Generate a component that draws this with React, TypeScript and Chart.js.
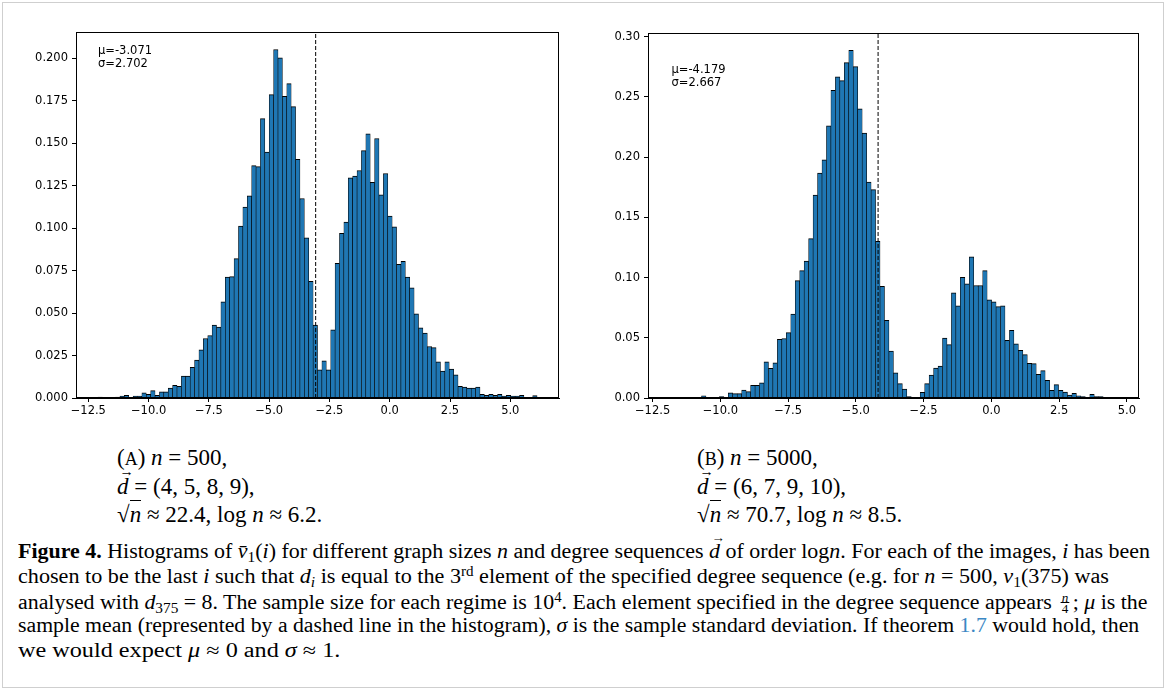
import React, { useEffect, useLayoutEffect, useRef } from "react";
import { Chart, registerables } from "chart.js";

Chart.register(...registerables);

// ---------- data: panel A (n = 500) ----------
const binStartA = -12.099;
const binWidthA = 0.1821;
const densityA = [
  0.0006, 0, 0, 0, 0.0006, 0.0011, 0.0016, 0, 0.0011, 0.0011,
  0.003, 0.0022, 0.0043, 0.0016, 0.0037, 0.0037, 0.0059, 0.0074, 0.0069, 0.0129,
  0.0129, 0.018, 0.0223, 0.0284, 0.035, 0.0368, 0.0429, 0.0417, 0.0566, 0.0711,
  0.0714, 0.082, 0.1012, 0.1124, 0.119, 0.1368, 0.1362, 0.1644, 0.1448, 0.1785,
  0.2051, 0.2002, 0.1775, 0.185, 0.1715, 0.1405, 0.1174, 0.0943, 0.0687, 0.0429,
  0.0166, 0.0219, 0.0166, 0.0401, 0.0793, 0.0969, 0.1035, 0.1296, 0.1306, 0.1339,
  0.1456, 0.1554, 0.127, 0.1527, 0.1196, 0.1321, 0.1071, 0.1008, 0.0787, 0.0804,
  0.0711, 0.0648, 0.0495, 0.0413, 0.0382, 0.0303, 0.0296, 0.0213, 0.0159, 0.0213,
  0.017, 0.0137, 0.0068, 0.0065, 0.0059, 0.0059, 0.0065, 0.0022, 0.0016, 0.0022,
  0.0016, 0.0022, 0.0011, 0.0016, 0.0011, 0.0011, 0.0016, 0, 0, 0.0014,
];
const meanA = -3.071;
const sdA = 2.702;
const xLimA = [-13.01, 7.02];
const yLimA = [0, 0.2154];
const xTicksA = [-12.5, -10, -7.5, -5, -2.5, 0, 2.5, 5];
const yTicksA = [0, 0.025, 0.05, 0.075, 0.1, 0.125, 0.15, 0.175, 0.2];

// ---------- data: panel B (n = 5000) ----------
const binStartB = -11.848;
const binWidthB = 0.1647;
const densityB = [
  0.0006, 0, 0, 0.0006, 0, 0, 0.0006, 0.0018, 0.0006, 0.0006,
  0.0006, 0.0012, 0, 0.0042, 0.0036, 0.0036, 0.0066, 0.0053, 0.0105, 0.0105,
  0.0125, 0.03, 0.0247, 0.0292, 0.0487, 0.0494, 0.0543, 0.0696, 0.0975, 0.1058,
  0.1138, 0.1324, 0.1685, 0.1868, 0.1978, 0.2261, 0.2555, 0.2667, 0.2636, 0.2785,
  0.2887, 0.2752, 0.2402, 0.22, 0.1793, 0.173, 0.13, 0.0928, 0.0646, 0.039,
  0.0208, 0.0119, 0.0075, 0.0012, 0.0006, 0.0006, 0.0047, 0.0119, 0.0191, 0.0249,
  0.0266, 0.0498, 0.0443, 0.0873, 0.0765, 0.1003, 0.0948, 0.1172, 0.0934, 0.0934,
  0.1058, 0.0815, 0.0798, 0.0759, 0.0765, 0.0479, 0.0562, 0.0449, 0.0396, 0.036,
  0.0288, 0.0285, 0.0197, 0.0227, 0.0147, 0.0064, 0.0111, 0.0064, 0.005, 0.0025,
  0.0039, 0.0019, 0.0012, 0, 0.003, 0.0012, 0.0012, 0, 0.0006, 0.0006,
];
const meanB = -4.179;
const sdB = 2.667;
const xLimB = [-12.67, 5.45];
const yLimB = [0, 0.3031];
const xTicksB = [-12.5, -10, -7.5, -5, -2.5, 0, 2.5, 5];
const yTicksB = [0, 0.05, 0.1, 0.15, 0.2, 0.25, 0.3];

const TICK_FONT = { family: '"DejaVu Sans", sans-serif', size: 11.5 };
const BAR_BLUE = "#1f77b4";

const fmt = (v: number, d: number) => (v < 0 ? "\u2212" : "") + Math.abs(v).toFixed(d);

const framePlugin = {
  id: "frame",
  afterDraw(chart: any) {
    const { ctx, chartArea } = chart;
    const l = Math.round(chartArea.left) + 0.5;
    const t = Math.round(chartArea.top) + 0.5;
    const r = Math.round(chartArea.right) - 0.5;
    const b = Math.round(chartArea.bottom) - 0.5;
    ctx.save();
    ctx.strokeStyle = "#000";
    ctx.lineWidth = 1;
    ctx.strokeRect(l, t, r - l, b - t);
    ctx.restore();
  },
};

const statsPlugin = {
  id: "stats",
  afterDraw(chart: any, _args: any, opts: any) {
    const { ctx, chartArea } = chart;
    ctx.save();
    ctx.font = `${opts.size}px "DejaVu Sans", sans-serif`;
    ctx.fillStyle = "#000";
    ctx.textAlign = "left";
    ctx.textBaseline = "alphabetic";
    (opts.lines as string[]).forEach((t, i) => {
      ctx.fillText(t, chartArea.left + opts.dx, chartArea.top + opts.dy + i * opts.lh);
    });
    ctx.restore();
  },
};

type Panel = {
  binStart: number;
  binWidth: number;
  density: number[];
  mean: number;
  sd: number;
  xLim: number[];
  yLim: number[];
  xTicks: number[];
  yTicks: number[];
  yDec: number;
  pad: { left: number; top: number; right: number; bottom: number };
  yAxisW: number;
  xAxisH: number;
  textDx: number;
  textDy: number;
};

function buildChart(canvas: HTMLCanvasElement, p: Panel) {
  const bars = p.density.map((h, i) => ({ x: p.binStart + (i + 0.5) * p.binWidth, y: h }));
  return new Chart(canvas, {
    type: "bar",
    data: {
      datasets: [
        {
          type: "bar",
          data: bars as any,
          backgroundColor: BAR_BLUE,
          borderColor: "#000",
          borderWidth: { top: 1, left: 0.6, right: 0.6, bottom: 0 } as any,
          borderSkipped: false,
          barPercentage: 1,
          categoryPercentage: 1,
          order: 2,
        },
        {
          type: "line",
          data: [
            { x: p.mean, y: p.yLim[0] },
            { x: p.mean, y: p.yLim[1] },
          ] as any,
          borderColor: "#000",
          borderWidth: 1,
          borderDash: [4, 2],
          pointRadius: 0,
          fill: false,
          order: 1,
        } as any,
      ],
    },
    options: {
      animation: false,
      responsive: false,
      maintainAspectRatio: false,
      devicePixelRatio: 1,
      events: [],
      layout: { padding: p.pad },
      plugins: {
        legend: { display: false },
        tooltip: { enabled: false },
        stats: {
          lines: [`μ=${p.mean.toFixed(3)}`, `σ=${p.sd.toFixed(3)}`],
          dx: p.textDx,
          dy: p.textDy,
          lh: 13.3,
          size: 11.5,
        },
      } as any,
      scales: {
        x: {
          type: "linear",
          min: p.xLim[0],
          max: p.xLim[1],
          offset: false,
          afterBuildTicks: (s: any) => {
            s.ticks = p.xTicks.map((v) => ({ value: v }));
          },
          afterFit: (s: any) => {
            s.height = p.xAxisH;
          },
          grid: {
            display: true,
            offset: false,
            drawOnChartArea: false,
            drawTicks: true,
            tickLength: 4,
            tickColor: "#000",
            color: "#000",
          },
          border: { display: true, color: "#000", width: 1 },
          ticks: {
            color: "#000",
            font: TICK_FONT,
            padding: 2,
            maxRotation: 0,
            autoSkip: false,
            callback: (v: any) => fmt(Number(v), 1),
          },
        },
        y: {
          type: "linear",
          min: p.yLim[0],
          max: p.yLim[1],
          afterBuildTicks: (s: any) => {
            s.ticks = p.yTicks.map((v) => ({ value: v }));
          },
          afterFit: (s: any) => {
            s.width = p.yAxisW;
          },
          grid: {
            display: true,
            drawOnChartArea: false,
            drawTicks: true,
            tickLength: 4,
            tickColor: "#000",
            color: "#000",
          },
          border: { display: true, color: "#000", width: 1 },
          ticks: {
            color: "#000",
            font: TICK_FONT,
            padding: 4,
            autoSkip: false,
            callback: (v: any) => fmt(Number(v), p.yDec),
          },
        },
      },
    } as any,
    plugins: [framePlugin, statsPlugin] as any,
  });
}

const panelA: Panel = {
  binStart: binStartA,
  binWidth: binWidthA,
  density: densityA,
  mean: meanA,
  sd: sdA,
  xLim: xLimA,
  yLim: yLimA,
  xTicks: xTicksA,
  yTicks: yTicksA,
  yDec: 3,
  pad: { left: 0, top: 32, right: 21, bottom: 0 },
  yAxisW: 76,
  xAxisH: 27,
  textDx: 22,
  textDy: 21.5,
};

const panelB: Panel = {
  binStart: binStartB,
  binWidth: binWidthB,
  density: densityB,
  mean: meanB,
  sd: sdB,
  xLim: xLimB,
  yLim: yLimB,
  xTicks: xTicksB,
  yTicks: yTicksB,
  yDec: 2,
  pad: { left: 0, top: 33, right: 28, bottom: 0 },
  yAxisW: 68,
  xAxisH: 27,
  textDx: 23.5,
  textDy: 39.5,
};

const SERIF = '"Liberation Serif", "Times New Roman", serif';
const LINK = "#3b87c4";

const Sub = ({ children }: { children: any }) => (
  <span style={{ fontSize: "0.7em", verticalAlign: "-0.28em", lineHeight: 0 }}>{children}</span>
);
const Sup = ({ children }: { children: any }) => (
  <span style={{ fontSize: "0.68em", verticalAlign: "0.5em", lineHeight: 0 }}>{children}</span>
);
const Vec = ({ c }: { c: string }) => (
  <span style={{ position: "relative", display: "inline-block" }}>
    <i>{c}</i>
    <span
      style={{
        position: "absolute",
        left: "0.18em",
        top: "-0.62em",
        fontSize: "0.62em",
        fontStyle: "normal",
        lineHeight: 1,
      }}
    >
      →
    </span>
  </span>
);
// small stacked fraction n/4, positioned in px for a 20px caption font
const Frac = () => (
  <span
    style={{
      position: "relative",
      display: "inline-block",
      width: 10,
      height: 20,
      margin: "0 2px",
      verticalAlign: "baseline",
    }}
  >
    <span
      style={{
        position: "absolute",
        left: 0,
        right: 0,
        top: 3,
        textAlign: "center",
        fontSize: 12,
        lineHeight: "12px",
        fontStyle: "italic",
      }}
    >
      n
    </span>
    <span style={{ position: "absolute", left: 1, right: 1, top: 13, borderTop: "1px solid #000" }} />
    <span
      style={{
        position: "absolute",
        left: 0,
        right: 0,
        top: 14,
        textAlign: "center",
        fontSize: 12,
        lineHeight: "12px",
      }}
    >
      4
    </span>
  </span>
);
const Sqrt = () => (
  <span>
    √<span style={{ borderTop: "1px solid #000", paddingTop: 1 }}>
      <i>n</i>
    </span>
  </span>
);

const capTargets = [1132, 1091, 1129, 1121, 322];
const capBaselines = [558, 583, 608, 632, 657];

export default function App() {
  const refA = useRef<HTMLCanvasElement | null>(null);
  const refB = useRef<HTMLCanvasElement | null>(null);
  const lineRefs = useRef<(HTMLSpanElement | null)[]>([]);

  useEffect(() => {
    const a = buildChart(refA.current!, panelA);
    const b = buildChart(refB.current!, panelB);
    return () => {
      a.destroy();
      b.destroy();
    };
  }, []);

  useLayoutEffect(() => {
    lineRefs.current.forEach((el, i) => {
      if (!el) return;
      const w = el.offsetWidth;
      if (w > 0) el.style.transform = `scaleX(${capTargets[i] / w})`;
    });
  }, []);

  const capSize = 20;
  const capLH = 24;
  const capTopOff = (capLH - 1.107 * capSize) / 2 + 0.891 * capSize;

  const subSize = 23;
  const subLH = 27;
  const subTopOff = (subLH - 1.107 * subSize) / 2 + 0.891 * subSize;
  const subBaselines = [465, 494, 522];

  const subLine = (left: number, i: number, content: any) => (
    <div
      key={`${left}-${i}`}
      style={{
        position: "absolute",
        left,
        top: subBaselines[i] - subTopOff,
        fontFamily: SERIF,
        fontSize: subSize,
        lineHeight: `${subLH}px`,
        whiteSpace: "nowrap",
        color: "#000",
      }}
    >
      {content}
    </div>
  );

  const capLines = [
    <>
      <b>Figure 4.</b> Histograms of <i>v̄</i>
      <Sub>1</Sub>(<i>i</i>) for different graph sizes <i>n</i> and degree sequences <Vec c="d" /> of order log
      <i>n</i>. For each of the images, <i>i</i> has been
    </>,
    <>
      chosen to be the last <i>i</i> such that <i>d</i>
      <Sub>
        <i>i</i>
      </Sub>{" "}
      is equal to the 3<Sup>rd</Sup> element of the specified degree sequence (e.g. for <i>n</i> = 500, <i>v</i>
      <Sub>1</Sub>(375) was
    </>,
    <>
      analysed with <i>d</i>
      <Sub>375</Sub> = 8. The sample size for each regime is 10<Sup>4</Sup>. Each element specified in the degree
      sequence appears <Frac />; <i>μ</i> is the
    </>,
    <>
      sample mean (represented by a dashed line in the histogram), <i>σ</i> is the sample standard deviation. If
      theorem <span style={{ color: LINK }}>1.7</span> would hold, then
    </>,
    <>
      we would expect <i>μ</i> ≈ 0 and <i>σ</i> ≈ 1.
    </>,
  ];

  return (
    <div
      style={{
        position: "absolute",
        left: 0,
        top: 0,
        width: 1167,
        height: 691,
        background: "#fff",
        overflow: "hidden",
      }}
    >
      <div
        style={{
          position: "absolute",
          left: 2,
          top: 2,
          width: 1160,
          height: 684,
          border: "1px solid #cfcfcf",
        }}
      />
      <canvas
        ref={refA}
        width={580}
        height={425}
        style={{ position: "absolute", left: 0, top: 0, width: 580, height: 425 }}
      />
      <canvas
        ref={refB}
        width={587}
        height={425}
        style={{ position: "absolute", left: 580, top: 0, width: 587, height: 425 }}
      />

      {subLine(117, 0, <>
        (<span style={{ fontSize: "0.78em" }}>A</span>) <i>n</i> = 500,
      </>)}
      {subLine(117, 1, <>
        <Vec c="d" /> = (4, 5, 8, 9),
      </>)}
      {subLine(117, 2, <>
        <Sqrt /> ≈ 22.4, log <i>n</i> ≈ 6.2.
      </>)}

      {subLine(697, 0, <>
        (<span style={{ fontSize: "0.78em" }}>B</span>) <i>n</i> = 5000,
      </>)}
      {subLine(697, 1, <>
        <Vec c="d" /> = (6, 7, 9, 10),
      </>)}
      {subLine(697, 2, <>
        <Sqrt /> ≈ 70.7, log <i>n</i> ≈ 8.5.
      </>)}

      {capLines.map((c, i) => (
        <div
          key={i}
          style={{
            position: "absolute",
            left: 18,
            top: capBaselines[i] - capTopOff,
            fontFamily: SERIF,
            fontSize: capSize,
            lineHeight: `${capLH}px`,
            color: "#000",
          }}
        >
          <span
            ref={(el) => {
              lineRefs.current[i] = el;
            }}
            style={{ display: "inline-block", whiteSpace: "nowrap", transformOrigin: "0 0" }}
          >
            {c}
          </span>
        </div>
      ))}
    </div>
  );
}
